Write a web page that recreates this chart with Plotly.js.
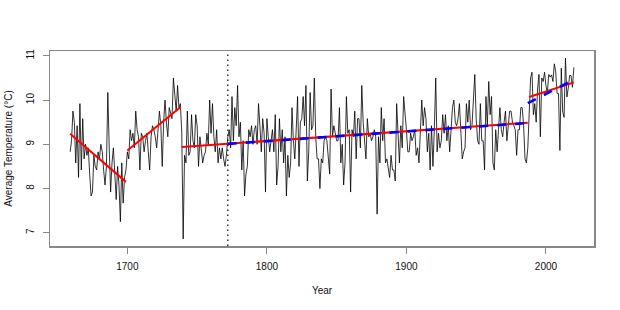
<!DOCTYPE html>
<html>
<head>
<meta charset="utf-8">
<script src="https://cdn.plot.ly/plotly-3.0.1.min.js"></script>
<style>html,body{margin:0;padding:0;background:#fff;}#chart{width:620px;height:310px;}</style>
</head>
<body>
<div id="chart"></div>
<script>
// Annual mean temperature, 1659-2020
const startYear = 1659;
const temps = [
 8.83, 9.08, 9.75, 9.50, 8.58, 9.42, 8.25, 9.92, 8.42, 9.58, // 1659-1668
 8.67, 9.00, 8.75, 8.92, 8.33, 7.83, 7.92, 8.75, 8.50, 8.42, // 1669-1678
 8.83, 8.67, 9.00, 8.83, 8.42, 8.08, 8.50, 10.17, 8.92, 7.92, // 1679-1688
 8.58, 8.92, 8.33, 7.75, 8.50, 8.08, 7.25, 8.58, 7.67, 8.25, // 1689-1698
 8.42, 8.83, 8.67, 9.33, 9.08, 9.25, 8.92, 9.75, 9.33, 9.17, // 1699-1708
 8.42, 9.25, 9.17, 8.83, 9.08, 9.25, 8.83, 8.42, 9.17, 9.42, // 1709-1718
 9.33, 9.17, 8.92, 9.42, 9.75, 9.42, 8.50, 9.50, 10.00, 9.50, // 1719-1728
 9.17, 9.83, 9.67, 9.58, 10.50, 10.00, 9.75, 10.33, 9.83, 9.92, // 1729-1738
 9.25, 6.86, 8.75, 8.58, 9.75, 8.75, 8.83, 9.67, 9.08, 8.92, // 1739-1748
 9.67, 9.42, 8.50, 9.17, 8.83, 8.58, 8.75, 8.83, 9.25, 9.00, // 1749-1758
 10.00, 9.25, 9.92, 9.17, 8.83, 9.33, 8.58, 8.92, 8.67, 8.92, // 1759-1768
 8.67, 8.50, 8.75, 9.17, 9.33, 8.92, 10.08, 9.08, 9.83, 9.42, // 1769-1778
 10.33, 9.17, 9.50, 8.42, 9.08, 7.83, 8.33, 8.50, 9.33, 9.17, // 1779-1788
 9.42, 9.00, 9.33, 9.42, 9.00, 9.92, 9.42, 8.83, 9.58, 9.25, // 1789-1798
 7.92, 9.58, 9.17, 8.83, 9.08, 9.33, 8.83, 9.67, 8.08, 8.50, // 1799-1808
 9.58, 8.83, 9.33, 8.58, 9.17, 7.83, 8.75, 8.25, 8.58, 9.83, // 1809-1818
 9.08, 8.67, 9.33, 10.08, 8.50, 9.50, 9.58, 10.08, 9.42, 10.33, // 1819-1828
 8.17, 8.83, 10.17, 9.33, 9.42, 10.50, 9.17, 8.67, 8.67, 8.00, // 1829-1838
 8.67, 8.58, 9.08, 9.17, 9.08, 8.67, 8.33, 10.25, 9.17, 9.42, // 1839-1848
 9.25, 9.08, 9.08, 9.83, 8.58, 9.00, 8.08, 8.58, 10.08, 9.25, // 1849-1858
 9.33, 7.92, 9.33, 9.17, 9.75, 8.67, 9.58, 9.58, 8.92, 10.33, // 1859-1868
 9.50, 9.08, 8.67, 9.58, 9.17, 9.25, 9.08, 9.17, 9.33, 9.17, // 1869-1878
 7.42, 9.17, 8.58, 9.83, 9.08, 9.58, 8.58, 8.67, 8.50, 8.25, // 1879-1888
 8.75, 8.42, 8.42, 8.17, 9.92, 9.33, 8.58, 9.42, 8.92, 10.08, // 1889-1898
 9.75, 9.33, 8.83, 8.83, 9.25, 9.08, 9.17, 9.33, 8.75, 8.92, // 1899-1908
 8.58, 9.17, 10.00, 9.42, 9.83, 9.58, 8.83, 9.25, 8.42, 9.42, // 1909-1918
 8.50, 9.33, 10.50, 8.83, 9.25, 8.92, 9.08, 9.67, 9.25, 9.67, // 1919-1928
 9.08, 9.42, 8.83, 9.33, 9.83, 10.00, 9.50, 9.42, 9.58, 9.92, // 1929-1938
 9.42, 8.67, 8.83, 8.92, 9.92, 9.50, 10.00, 9.33, 9.42, 9.92, // 1939-1948
 10.58, 9.58, 9.08, 9.00, 9.92, 9.08, 9.08, 8.42, 10.08, 9.42, // 1949-1958
 10.42, 9.67, 10.08, 8.58, 8.42, 9.33, 8.83, 9.33, 9.83, 9.33, // 1959-1968
 9.17, 9.50, 9.75, 9.08, 9.50, 9.75, 9.75, 9.50, 9.42, 9.33, // 1969-1978
 8.75, 9.33, 9.33, 9.83, 9.83, 9.42, 8.67, 8.58, 8.92, 9.83, // 1979-1988
 10.50, 10.63, 9.67, 9.92, 9.50, 10.25, 10.58, 9.17, 10.50, 10.42, // 1989-1998
 10.63, 10.33, 10.16, 10.58, 10.52, 10.57, 10.42, 10.82, 10.64, 10.15, // 1999-2008
 10.15, 8.86, 10.72, 9.73, 9.61, 10.95, 10.07, 10.27, 10.56, 10.55, // 2009-2018
 10.29, 10.74 // 2019-2020
];
const years = temps.map((_, i) => startYear + i);

// Red fitted trend segments (end points)
const redSegYears = [[1659, 1699], [1700, 1738], [1739, 1987], [1988, 2020]];
const redSegVals  = [[9.24, 8.15], [8.86, 9.84], [8.94, 9.49], [10.07, 10.40]];
// Blue dashed fitted segments
const blueSegYears = [[1772, 1987], [1987, 2020]];
const blueSegVals  = [[9.01, 9.48], [9.93, 10.46]];
// Vertical dotted reference year
const markYear = 1772;

const xTicks = [1700, 1800, 1900, 2000];
const yTicks = [7, 8, 9, 10, 11];

const traces = [{
  x: years, y: temps, type: 'scatter', mode: 'lines',
  line: {color: '#000', width: 0.8}, hoverinfo: 'skip'
}];
redSegYears.forEach((yr, i) => traces.push({
  x: yr, y: redSegVals[i], type: 'scatter', mode: 'lines',
  line: {color: '#FF0000', width: 2}
}));
blueSegYears.forEach((yr, i) => traces.push({
  x: yr, y: blueSegVals[i], type: 'scatter', mode: 'lines',
  line: {color: '#0000FF', width: 2.6, dash: '9px,9px'}
}));

const font = 'Liberation Sans, Arial, Helvetica, sans-serif';
const layout = {
  width: 620, height: 310,
  margin: {l: 50, r: 26, t: 51, b: 64},
  paper_bgcolor: '#fff', plot_bgcolor: '#fff',
  showlegend: false,
  font: {family: font, size: 10, color: '#000'},
  xaxis: {
    range: [1644.56, 2034.44], tickvals: xTicks, ticktext: xTicks.map(String),
    ticks: 'outside', ticklen: 6, tickwidth: 1, tickcolor: '#888',
    showline: true, mirror: true, linecolor: '#888', linewidth: 1.5,
    showgrid: false, zeroline: false, ticklabelstandoff: 4,
    tickfont: {size: 10, color: '#111'},
    title: {text: 'Year', font: {size: 10, color: '#111'}, standoff: 16}
  },
  yaxis: {
    range: [6.70, 11.11], tickvals: yTicks, ticktext: yTicks.map(String),
    tickangle: -90,
    ticks: 'outside', ticklen: 6, tickwidth: 1, tickcolor: '#888',
    showline: true, mirror: true, linecolor: '#888', linewidth: 1.5,
    showgrid: false, zeroline: false, ticklabelstandoff: 5,
    tickfont: {size: 10, color: '#111'},
    title: {text: 'Average Temperature (°C)', font: {size: 10, color: '#111'}, standoff: 10}
  },
  shapes: [{
    type: 'line', xref: 'x', yref: 'paper', x0: markYear, x1: markYear, y0: 0, y1: 1,
    line: {color: '#000', width: 1.2, dash: '1.5px,3.5px'}
  }]
};

Plotly.newPlot('chart', traces, layout, {staticPlot: true, displayModeBar: false});
</script>
</body>
</html>
